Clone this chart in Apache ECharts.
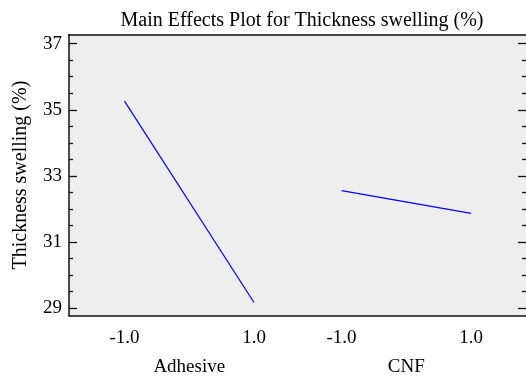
<!DOCTYPE html>
<html>
<head>
<meta charset="utf-8">
<script src="https://cdn.jsdelivr.net/npm/echarts@6/dist/echarts.min.js"></script>
<style>
html,body{margin:0;padding:0;background:#fff;}
#chart{width:526px;height:381px;}
</style>
</head>
<body>
<div id="chart"></div>
<script>
// ---- data ----
const factors = ['Adhesive', 'CNF'];
const levels = [-1, 1];
const levelLabels = ['-1.0', '1.0'];
const adhesiveMeans = [35.26, 29.16];
const cnfMeans = [32.55, 31.86];
const yMajorTicks = [29, 31, 33, 35, 37];
const yMinorTicks = [29.5, 30, 30.5, 31.5, 32, 32.5, 33.5, 34, 34.5, 35.5, 36, 36.5];

// ---- layout (axis units) ----
const factorCenters = [1.857, 5.209];
const xMin = 0, xMax = 7.057;
const yMin = 28.76, yMax = 37.28;

const font = 'Liberation Serif';
const seriesMeans = [adhesiveMeans, cnfMeans];

const tickPos = [];
const tickText = {};
factorCenters.forEach(c => levels.forEach((l, i) => {
  const p = +(c + l).toFixed(3);
  tickPos.push(p);
  tickText[p.toFixed(3)] = levelLabels[i];
}));
const nameText = {};
factorCenters.forEach((c, i) => { nameText[c.toFixed(3)] = factors[i]; });

const chart = echarts.init(document.getElementById('chart'), null, {renderer: 'canvas'});

function yAx(position, custom, len, showLabel, showLine, extra) {
  return Object.assign({
    type: 'value', position: position, min: yMin, max: yMax,
    axisLine: {show: showLine, onZero: false, lineStyle: {color: '#111', width: 1.5}},
    axisTick: {show: true, inside: true, length: len, customValues: custom, lineStyle: {color: '#111', width: 1.3}},
    axisLabel: {show: showLabel, customValues: custom, margin: 7, color: '#000', fontFamily: font, fontSize: 19},
    splitLine: {show: false}
  }, extra || {});
}

chart.setOption({
  animation: false,
  title: {
    text: 'Main Effects Plot for Thickness swelling (%)',
    left: 297, textAlign: 'center', top: 6,
    textStyle: {fontFamily: font, fontSize: 20, fontWeight: 'normal', color: '#000'}
  },
  grid: {left: 69, right: 0, top: 34.5, bottom: 65.3, show: true, backgroundColor: '#eeeeee', borderWidth: 0},
  xAxis: [
    {
      type: 'value', position: 'bottom', min: xMin, max: xMax,
      axisLine: {show: true, onZero: false, lineStyle: {color: '#111', width: 1.5}},
      axisTick: {show: false},
      splitLine: {show: false},
      axisLabel: {
        customValues: tickPos, margin: 13, color: '#000', fontFamily: font, fontSize: 19,
        formatter: v => tickText[(+v).toFixed(3)] || ''
      }
    },
    {
      type: 'value', position: 'bottom', min: xMin, max: xMax,
      axisLine: {show: false}, axisTick: {show: false}, splitLine: {show: false},
      axisLabel: {
        customValues: factorCenters, margin: 42, color: '#000', fontFamily: font, fontSize: 19,
        formatter: v => nameText[(+v).toFixed(3)] || ''
      }
    },
    {
      type: 'value', position: 'top', min: xMin, max: xMax,
      axisLine: {show: true, onZero: false, lineStyle: {color: '#111', width: 1.5}},
      axisTick: {show: false}, axisLabel: {show: false}, splitLine: {show: false}
    }
  ],
  yAxis: [
    yAx('left', yMajorTicks, 8, true, true, {
      name: 'Thickness swelling (%)', nameLocation: 'middle', nameGap: 38, nameRotate: 90,
      nameTextStyle: {fontFamily: font, fontSize: 20, color: '#000'}
    }),
    yAx('left', yMinorTicks, 4, false, false),
    yAx('right', yMajorTicks, 8, false, false),
    yAx('right', yMinorTicks, 4, false, false)
  ],
  series: factors.map((f, k) => ({
    name: f, type: 'line', xAxisIndex: 0, yAxisIndex: 0,
    showSymbol: false, silent: true,
    lineStyle: {color: '#0000ff', width: 1.2},
    data: levels.map((l, i) => [factorCenters[k] + l, seriesMeans[k][i]])
  }))
});
</script>
</body>
</html>
